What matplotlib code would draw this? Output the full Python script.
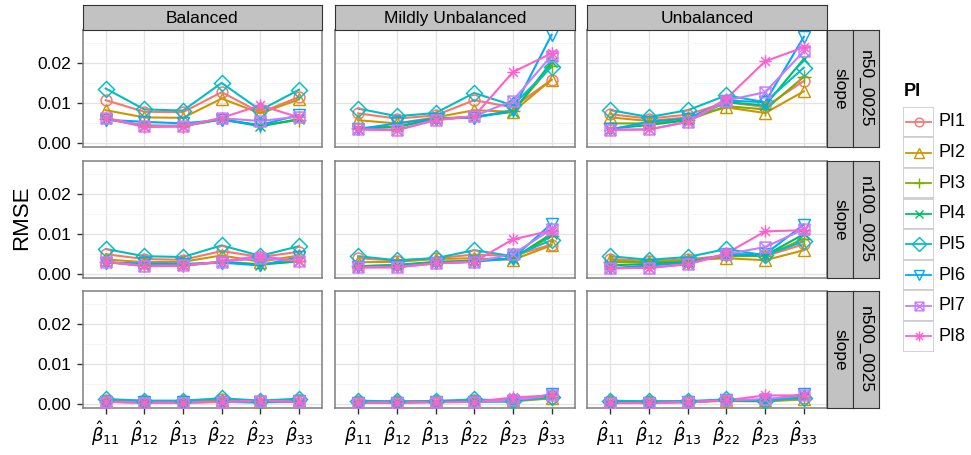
import numpy as np
import matplotlib
matplotlib.use("Agg")
import matplotlib.pyplot as plt
from matplotlib.path import Path
from matplotlib.patches import Rectangle
from matplotlib.lines import Line2D

plt.rcParams['font.family'] = ['Liberation Sans', 'DejaVu Sans']
plt.rcParams['mathtext.fontset'] = 'dejavusans'

# ---------------- data ----------------
params = [r'$\hat{\beta}_{11}$', r'$\hat{\beta}_{12}$', r'$\hat{\beta}_{13}$',
          r'$\hat{\beta}_{22}$', r'$\hat{\beta}_{23}$', r'$\hat{\beta}_{33}$']
designs = ["Balanced", "Mildly Unbalanced", "Unbalanced"]
sizes = ["n50_0025", "n100_0025", "n500_0025"]
quantity = "slope"
pi_names = ["PI1", "PI2", "PI3", "PI4", "PI5", "PI6", "PI7", "PI8"]

# rows = PI1..PI8, columns = params
bal_n50 = [
    [0.0107, 0.0078, 0.0077, 0.0127, 0.0076, 0.0115],
    [0.0082, 0.0064, 0.0063, 0.0111, 0.0074, 0.0109],
    [0.0061, 0.0044, 0.0043, 0.0060, 0.0043, 0.0058],
    [0.0060, 0.0043, 0.0042, 0.0059, 0.0042, 0.0060],
    [0.0136, 0.0084, 0.0081, 0.0150, 0.0082, 0.0133],
    [0.0058, 0.0053, 0.0049, 0.0058, 0.0045, 0.0070],
    [0.0063, 0.0042, 0.0043, 0.0062, 0.0055, 0.0066],
    [0.0062, 0.0040, 0.0041, 0.0063, 0.0094, 0.0064],
]
mild_n50 = [
    [0.0074, 0.0061, 0.0069, 0.0107, 0.0089, 0.0158],
    [0.0057, 0.0049, 0.0064, 0.0082, 0.0078, 0.0158],
    [0.0037, 0.0041, 0.0061, 0.0066, 0.0079, 0.0193],
    [0.0036, 0.0040, 0.0060, 0.0065, 0.0078, 0.0202],
    [0.0086, 0.0067, 0.0075, 0.0125, 0.0094, 0.0190],
    [0.0035, 0.0049, 0.0061, 0.0063, 0.0082, 0.0270],
    [0.0034, 0.0033, 0.0058, 0.0067, 0.0106, 0.0218],
    [0.0034, 0.0032, 0.0057, 0.0067, 0.0177, 0.0224],
]
unbal_n50 = [
    [0.0072, 0.0061, 0.0071, 0.0102, 0.0090, 0.0155],
    [0.0064, 0.0055, 0.0064, 0.0089, 0.0075, 0.0129],
    [0.0049, 0.0049, 0.0057, 0.0092, 0.0084, 0.0165],
    [0.0036, 0.0045, 0.0057, 0.0102, 0.0094, 0.0210],
    [0.0082, 0.0065, 0.0082, 0.0119, 0.0102, 0.0188],
    [0.0034, 0.0053, 0.0061, 0.0106, 0.0102, 0.0265],
    [0.0033, 0.0034, 0.0053, 0.0106, 0.0127, 0.0229],
    [0.0033, 0.0034, 0.0053, 0.0111, 0.0204, 0.0239],
]
bal_n100 = [
    [0.0050, 0.0038, 0.0036, 0.0058, 0.0043, 0.0056],
    [0.0037, 0.0030, 0.0031, 0.0047, 0.0031, 0.0047],
    [0.0031, 0.0022, 0.0023, 0.0031, 0.0025, 0.0033],
    [0.0030, 0.0022, 0.0022, 0.0030, 0.0024, 0.0032],
    [0.0063, 0.0045, 0.0043, 0.0072, 0.0046, 0.0070],
    [0.0029, 0.0027, 0.0026, 0.0029, 0.0022, 0.0043],
    [0.0031, 0.0021, 0.0022, 0.0031, 0.0040, 0.0033],
    [0.0031, 0.0020, 0.0021, 0.0032, 0.0046, 0.0032],
]
mild_n100 = [
    [0.0040, 0.0034, 0.0040, 0.0049, 0.0046, 0.0074],
    [0.0030, 0.0031, 0.0038, 0.0040, 0.0036, 0.0072],
    [0.0020, 0.0023, 0.0031, 0.0034, 0.0039, 0.0095],
    [0.0020, 0.0023, 0.0030, 0.0034, 0.0039, 0.0101],
    [0.0045, 0.0035, 0.0040, 0.0060, 0.0045, 0.0085],
    [0.0018, 0.0021, 0.0028, 0.0031, 0.0040, 0.0126],
    [0.0017, 0.0018, 0.0027, 0.0031, 0.0050, 0.0112],
    [0.0017, 0.0017, 0.0027, 0.0031, 0.0087, 0.0109],
]
unbal_n100 = [
    [0.0038, 0.0033, 0.0037, 0.0047, 0.0045, 0.0075],
    [0.0035, 0.0030, 0.0035, 0.0040, 0.0035, 0.0060],
    [0.0030, 0.0030, 0.0032, 0.0045, 0.0046, 0.0088],
    [0.0022, 0.0026, 0.0030, 0.0048, 0.0047, 0.0100],
    [0.0045, 0.0036, 0.0043, 0.0063, 0.0047, 0.0082],
    [0.0015, 0.0022, 0.0028, 0.0050, 0.0050, 0.0124],
    [0.0015, 0.0016, 0.0025, 0.0050, 0.0068, 0.0112],
    [0.0015, 0.0016, 0.0025, 0.0052, 0.0107, 0.0110],
]
bal_n500 = [
    [0.0010, 0.0008, 0.0008, 0.0012, 0.0009, 0.0011],
    [0.0008, 0.0006, 0.0006, 0.0010, 0.0006, 0.0010],
    [0.0006, 0.0005, 0.0005, 0.0006, 0.0005, 0.0007],
    [0.0006, 0.0005, 0.0005, 0.0006, 0.0005, 0.0006],
    [0.0013, 0.0009, 0.0009, 0.0015, 0.0009, 0.0014],
    [0.0006, 0.0005, 0.0005, 0.0006, 0.0005, 0.0009],
    [0.0006, 0.0004, 0.0004, 0.0006, 0.0008, 0.0007],
    [0.0006, 0.0004, 0.0004, 0.0006, 0.0009, 0.0006],
]
mild_n500 = [
    [0.0008, 0.0007, 0.0008, 0.0010, 0.0009, 0.0015],
    [0.0006, 0.0006, 0.0008, 0.0008, 0.0007, 0.0015],
    [0.0004, 0.0005, 0.0006, 0.0007, 0.0008, 0.0019],
    [0.0004, 0.0005, 0.0006, 0.0007, 0.0008, 0.0020],
    [0.0009, 0.0007, 0.0008, 0.0012, 0.0009, 0.0017],
    [0.0004, 0.0004, 0.0006, 0.0006, 0.0008, 0.0025],
    [0.0004, 0.0004, 0.0005, 0.0006, 0.0010, 0.0022],
    [0.0004, 0.0004, 0.0005, 0.0006, 0.0017, 0.0022],
]
unbal_n500 = [
    [0.0008, 0.0007, 0.0007, 0.0009, 0.0009, 0.0015],
    [0.0007, 0.0006, 0.0007, 0.0008, 0.0007, 0.0012],
    [0.0006, 0.0006, 0.0006, 0.0009, 0.0009, 0.0017],
    [0.0004, 0.0005, 0.0006, 0.0010, 0.0009, 0.0020],
    [0.0009, 0.0007, 0.0008, 0.0012, 0.0009, 0.0016],
    [0.0003, 0.0004, 0.0006, 0.0010, 0.0010, 0.0025],
    [0.0003, 0.0003, 0.0005, 0.0010, 0.0013, 0.0022],
    [0.0003, 0.0003, 0.0005, 0.0010, 0.0022, 0.0022],
]

grid_data = [
    [bal_n50, mild_n50, unbal_n50],
    [bal_n100, mild_n100, unbal_n100],
    [bal_n500, mild_n500, unbal_n500],
]

# ---------------- style ----------------
colors = ["#F8766D", "#CD9600", "#7CAE00", "#00BE67",
          "#00BFC4", "#00A9FF", "#C77CFF", "#FF61CC"]

sq_x = Path([(-1, -1), (1, -1), (1, 1), (-1, 1), (-1, -1),
             (-1, -1), (1, 1), (-1, 1), (1, -1)],
            [Path.MOVETO, Path.LINETO, Path.LINETO, Path.LINETO, Path.CLOSEPOLY,
             Path.MOVETO, Path.LINETO, Path.MOVETO, Path.LINETO])
d = 0.7071
aster = Path([(-1, 0), (1, 0), (0, -1), (0, 1), (-d, -d), (d, d), (-d, d), (d, -d)],
             [Path.MOVETO, Path.LINETO] * 4)

markers = ['o', '^', '+', 'x', 'D', 'v', sq_x, aster]
msizes = [7.8, 8.5, 9.5, 7.5, 8.5, 8.5, 7.8, 9.0]

W, H = 971, 455
fig = plt.figure(figsize=(W / 100, H / 100), dpi=100)


def rect(x0, ytop, w, h):
    return [x0 / W, 1 - (ytop + h) / H, w / W, h / H]


col_left = [82.5, 335.0, 587.3]
pw = 239.7
row_top = [29.5, 160.7, 290.7]
ph = 117.7

allv = np.array(grid_data).ravel()
rng = allv.max() - allv.min()
ylo, yhi = allv.min() - 0.05 * rng, allv.max() + 0.05 * rng
x = np.arange(1, len(params) + 1)

strip_fill = "#C2C2C2"
strip_edge = "#333333"
border = "#7F7F7F"

for r in range(3):
    for c in range(3):
        ax = fig.add_axes(rect(col_left[c], row_top[r], pw, ph))
        ax.set_facecolor("white")
        ax.set_xlim(0.4, len(params) + 0.6)
        ax.set_ylim(ylo, yhi)
        ax.set_yticks([0.0, 0.01, 0.02])
        ax.set_yticks([0.005, 0.015, 0.025], minor=True)
        ax.set_xticks(x)
        ax.grid(True, which='major', color="#E3E3E3", lw=0.9)
        ax.grid(True, which='minor', axis='y', color="#F4F4F4", lw=0.6)
        ax.set_axisbelow(True)
        for s in ax.spines.values():
            s.set_color(border)
            s.set_linewidth(1.1)
        data = grid_data[r][c]
        for k in range(len(pi_names)):
            ax.plot(x, data[k], color=colors[k], lw=1.5, zorder=2)
        for k in range(len(pi_names)):
            ax.plot(x, data[k], ls='none', marker=markers[k], ms=msizes[k],
                    mfc='none', mec=colors[k], mew=1.05, zorder=3)
        ax.tick_params(axis='both', which='minor', length=0)
        ax.tick_params(axis='both', which='major', color="#333333", length=4.5,
                       width=1.0, labelsize=12.5, labelcolor='black')
        if c == 0:
            ax.set_yticklabels(["0.00", "0.01", "0.02"])
        else:
            ax.tick_params(axis='y', length=0, labelleft=False)
        if r == 2:
            ax.set_xticklabels(params, fontsize=13)
        else:
            ax.tick_params(axis='x', length=0, labelbottom=False)

        # top strips
        if r == 0:
            sax = fig.add_axes(rect(col_left[c], 4.5, pw, 25))
            sax.set_facecolor(strip_fill)
            sax.set_xticks([]); sax.set_yticks([])
            for s in sax.spines.values():
                s.set_color(strip_edge); s.set_linewidth(0.8)
            sax.text(0.5, 0.5, designs[c], ha='center', va='center_baseline',
                     fontsize=12.5, transform=sax.transAxes)
    # right strips
    for j, (lab, x0) in enumerate([(quantity, 827.3), (sizes[r], 852.7)]):
        sax = fig.add_axes(rect(x0, row_top[r], 25.6 if j == 0 else 26.0, ph))
        sax.set_facecolor(strip_fill)
        sax.set_xticks([]); sax.set_yticks([])
        for s in sax.spines.values():
            s.set_color(strip_edge); s.set_linewidth(0.8)
        sax.text(0.5, 0.5, lab, ha='center', va='center', fontsize=12.5,
                 rotation=-90, transform=sax.transAxes)

# y label
fig.text(22 / W, 1 - 218 / H, "RMSE", rotation=90, ha='center', va='center',
         fontsize=16)

# legend
lx0, ly0, kw, kh = 903.3, 106.7, 31.0, 30.6
fig.text(lx0 / W, 1 - 92 / H, "PI", fontsize=13, fontweight='bold',
         ha='left', va='center')
lax = fig.add_axes(rect(lx0, ly0, kw, kh * len(pi_names)))
lax.set_xlim(0, 1)
lax.set_ylim(len(pi_names), 0)
lax.axis('off')
for k in range(len(pi_names)):
    lax.add_patch(Rectangle((0, k), 1, 1, facecolor='white', edgecolor="#CCCCCC",
                            lw=1.2))
    lax.add_line(Line2D([0.1, 0.9], [k + 0.5, k + 0.5], color=colors[k], lw=1.3))
    lax.plot([0.5], [k + 0.5], ls='none', marker=markers[k], ms=msizes[k] * 0.8,
             mfc='none', mec=colors[k], mew=1.0)
    fig.text((lx0 + kw + 4) / W, 1 - (ly0 + kh * (k + 0.5)) / H, pi_names[k],
             fontsize=13, ha='left', va='center')

fig.savefig("out.png", dpi=100)
